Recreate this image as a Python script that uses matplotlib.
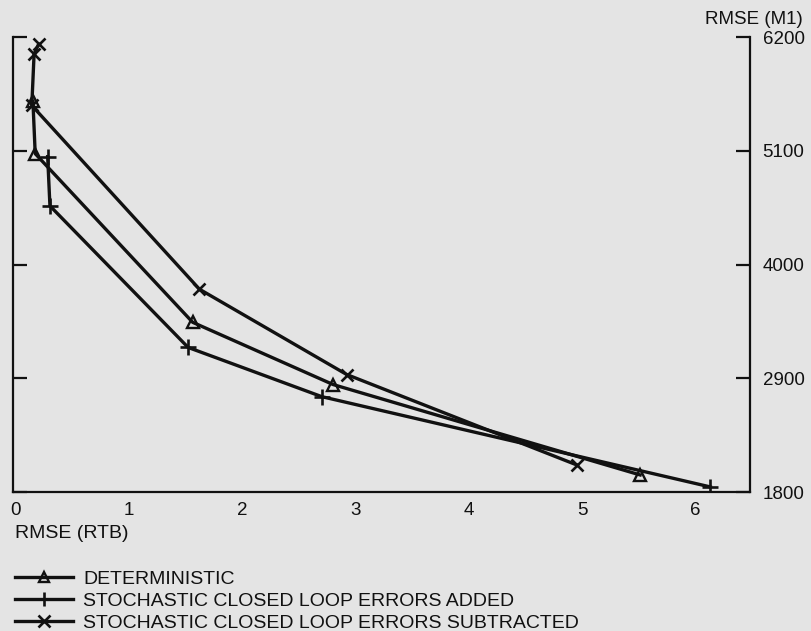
import matplotlib
matplotlib.use("Agg")
import matplotlib.pyplot as plt

plt.rcParams['font.family'] = ['Liberation Sans', 'DejaVu Sans']

# Data
det_x = [0.15, 0.17, 1.56, 2.80, 5.51]
det_y = [5577, 5072, 3441, 2839, 1965]
add_x = [0.28, 0.30, 1.52, 2.70, 6.13]
add_y = [5043, 4567, 3198, 2722, 1849]
sub_x = [0.20, 0.16, 0.14, 1.62, 2.92, 4.95]
sub_y = [6131, 6033, 5538, 3761, 2936, 2062]

x_ticks = [0, 1, 2, 3, 4, 5, 6]
y_ticks = [1800, 2900, 4000, 5100, 6200]
labels = ["DETERMINISTIC",
          "STOCHASTIC CLOSED LOOP ERRORS ADDED",
          "STOCHASTIC CLOSED LOOP ERRORS SUBTRACTED"]

W, H = 811, 631
bg = '#e4e4e4'
ink = '#111111'
fig = plt.figure(figsize=(W/100, H/100), dpi=100, facecolor=bg)
ax = fig.add_axes([13/W, 1-492/H, (750-13)/W, (492-37)/H])
ax.set_facecolor(bg)

lw = 2.4
l1, = ax.plot(det_x, det_y, color=ink, lw=lw, marker='^', ms=8, mfc='none', mew=1.7)
l2, = ax.plot(add_x, add_y, color=ink, lw=lw, marker='+', ms=11, mew=1.9)
l3, = ax.plot(sub_x, sub_y, color=ink, lw=lw, marker='x', ms=9, mew=1.9)

ax.set_xlim(-0.026, 6.48)
ax.set_ylim(1800, 6200)
ax.set_xticks(x_ticks)
ax.set_xticklabels([str(v) for v in x_ticks])
ax.set_yticks(y_ticks)
ax.set_yticklabels([str(v) for v in y_ticks])

for s in ['left', 'right', 'bottom']:
    ax.spines[s].set_color(ink)
    ax.spines[s].set_linewidth(1.6)
ax.spines['top'].set_visible(False)

ax.tick_params(axis='y', which='both', direction='in', left=True, right=True,
               labelleft=False, labelright=True, length=10, width=1.6,
               color=ink, labelsize=13.5, pad=9, labelcolor=ink)
ax.tick_params(axis='x', length=0, labelsize=13.5, pad=7, labelcolor=ink)

fig.text(705/W, 1-20/H, "RMSE (M1)", fontsize=13.5, color=ink, ha='left', va='center')
fig.text(15/W, 1-533/H, "RMSE (RTB)", fontsize=14, color=ink, ha='left', va='center')

leg = fig.legend([l1, l2, l3], labels, loc='upper left',
                 bbox_to_anchor=(15/W, 1-570/H), frameon=False, fontsize=14,
                 handlelength=3.0, handletextpad=0.5, labelspacing=0.24,
                 borderaxespad=0, borderpad=0, markerscale=0.9)
for t in leg.get_texts():
    t.set_color(ink)

fig.savefig("out.png", dpi=100, facecolor=bg)
